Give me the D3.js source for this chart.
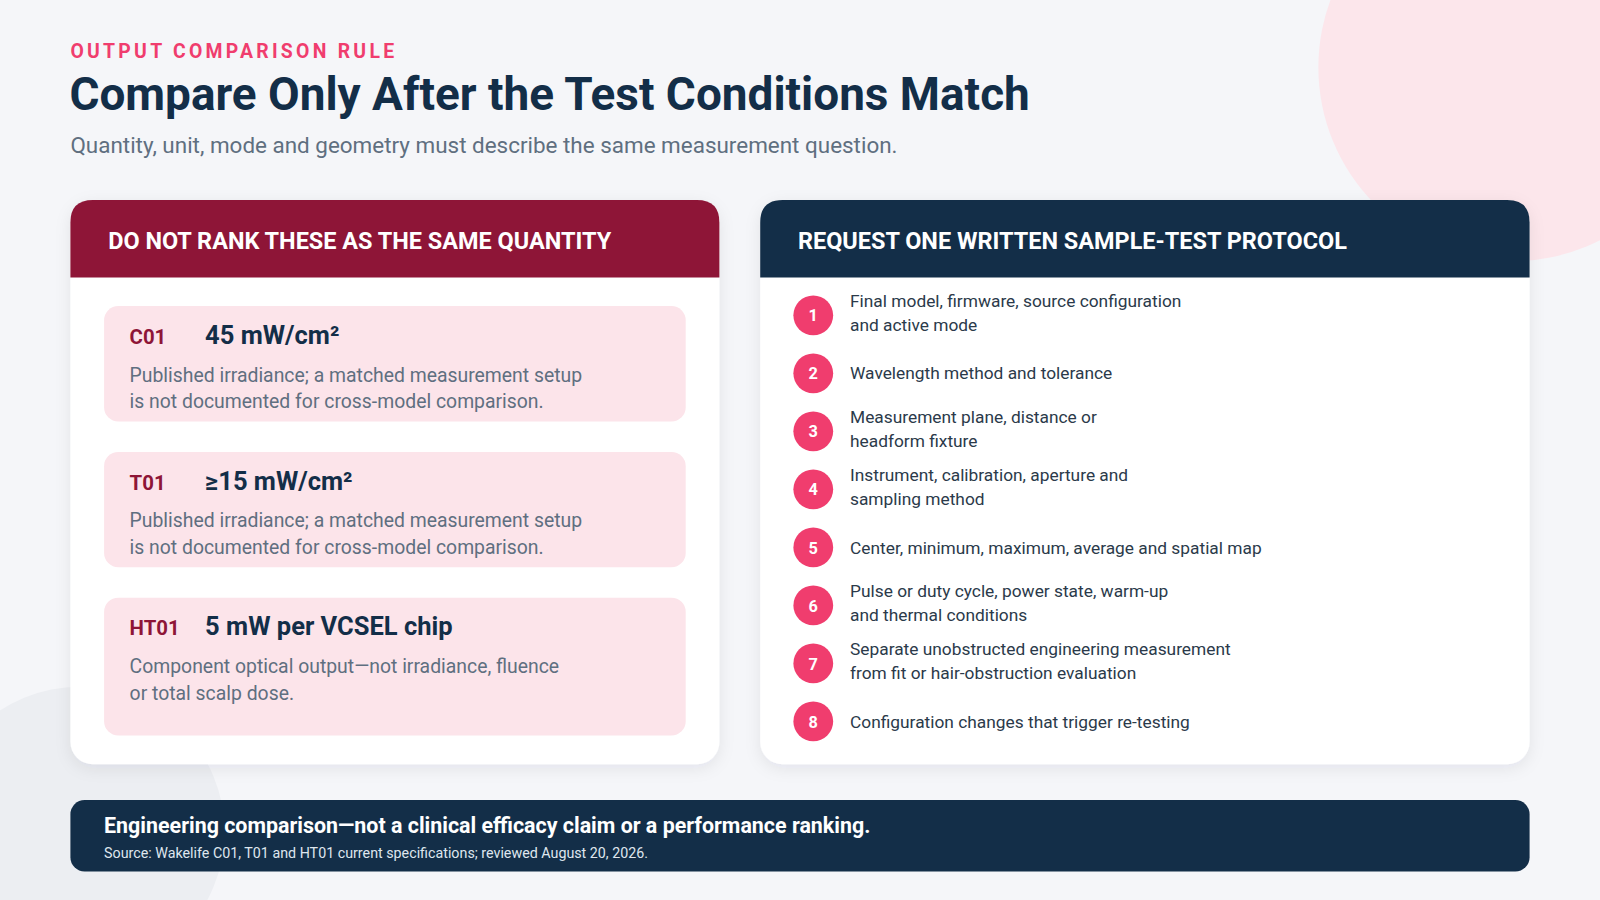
<!DOCTYPE html>
<html><head><meta charset="utf-8">
<script src="https://cdn.jsdelivr.net/npm/d3@7"></script>
<style>
body{margin:0;background:#f5f6f9;font-family:Roboto,"Liberation Sans",sans-serif}
</style></head>
<body><svg id="chart" width="1600" height="900" viewBox="0 0 1568 882"></svg>
<script>
// content
const kicker = "OUTPUT COMPARISON RULE";
const title = "Compare Only After the Test Conditions Match";
const subtitle = "Quantity, unit, mode and geometry must describe the same measurement question.";
const leftHeader = "DO NOT RANK THESE AS THE SAME QUANTITY";
const rightHeader = "REQUEST ONE WRITTEN SAMPLE-TEST PROTOCOL";
const codes = ["C01", "T01", "HT01"];
const values = ["45 mW/cm²", "≥15 mW/cm²", "5 mW per VCSEL chip"];
const notes = [
  ["Published irradiance; a matched measurement setup", "is not documented for cross-model comparison."],
  ["Published irradiance; a matched measurement setup", "is not documented for cross-model comparison."],
  ["Component optical output—not irradiance, fluence", "or total scalp dose."]
];
const steps = [
  ["Final model, firmware, source configuration", "and active mode"],
  ["Wavelength method and tolerance"],
  ["Measurement plane, distance or", "headform fixture"],
  ["Instrument, calibration, aperture and", "sampling method"],
  ["Center, minimum, maximum, average and spatial map"],
  ["Pulse or duty cycle, power state, warm-up", "and thermal conditions"],
  ["Separate unobstructed engineering measurement", "from fit or hair-obstruction evaluation"],
  ["Configuration changes that trigger re-testing"]
];
const footerMain = "Engineering comparison—not a clinical efficacy claim or a performance ranking.";
const footerSource = "Source: Wakelife C01, T01 and HT01 current specifications; reviewed August 20, 2026.";

const navy = "#132e48", wine = "#8e1537", pink = "#f03d6e", grey = "#5f6f80";
const svg = d3.select("#chart");

const defs = svg.append("defs");
const f = defs.append("filter").attr("id", "sh").attr("x", "-10%").attr("y", "-10%").attr("width", "120%").attr("height", "130%");
f.append("feDropShadow").attr("dx", 0).attr("dy", 4).attr("stdDeviation", 8).attr("flood-color", "#1b2a3a").attr("flood-opacity", 0.08);

svg.append("rect").attr("width", 1568).attr("height", 882).attr("fill", "#f5f6f9");
svg.append("circle").attr("cx", 1482).attr("cy", 66).attr("r", 190).attr("fill", "#fce6eb");
svg.append("circle").attr("cx", 78).attr("cy", 815).attr("r", 142).attr("fill", "#eceef2");

svg.append("text").attr("x", 69).attr("y", 57).text(kicker)
  .attr("fill", pink).attr("font-size", 19).attr("font-weight", 700).attr("letter-spacing", 3.2);
svg.append("text").attr("x", 68).attr("y", 108).text(title)
  .attr("fill", navy).attr("font-size", 45).attr("font-weight", 700);
svg.append("text").attr("x", 69).attr("y", 150).text(subtitle)
  .attr("fill", grey).attr("font-size", 22);

function card(x, w, head, color) {
  const g = svg.append("g");
  g.append("rect").attr("x", x).attr("y", 196).attr("width", w).attr("height", 553).attr("rx", 22)
    .attr("fill", "#fff").attr("filter", "url(#sh)");
  g.append("path").attr("fill", color)
    .attr("d", `M${x},272 V${196 + 22} Q${x},196 ${x + 22},196 H${x + w - 22} Q${x + w},196 ${x + w},218 V272 Z`);
  g.append("text").attr("x", x + 37).attr("y", 244).text(head)
    .attr("fill", "#fff").attr("font-size", 23).attr("font-weight", 700);
}
card(69, 636, leftHeader, wine);
card(745, 754, rightHeader, navy);

// left boxes
const boxY = d3.scaleBand().domain(codes).range([300, 705]).paddingInner(0.165);
const box = svg.selectAll("g.box").data(codes).join("g").attr("class", "box")
  .attr("transform", d => `translate(102,${boxY(d)})`);
box.append("rect").attr("width", 570).attr("height", (d, i) => i === 2 ? 135 : 113).attr("rx", 14).attr("fill", "#fce4ea");
box.append("text").attr("x", 25).attr("y", 37).text(d => d)
  .attr("fill", wine).attr("font-size", 20).attr("font-weight", 700);
box.append("text").attr("x", 99).attr("y", 37).text((d, i) => values[i])
  .attr("fill", navy).attr("font-size", 25).attr("font-weight", 700);
box.each(function(d, i) {
  d3.select(this).selectAll("text.n").data(notes[i]).join("text").attr("class", "n")
    .attr("x", 25).attr("y", (t, j) => 74 + j * 26).text(t => t)
    .attr("fill", grey).attr("font-size", 19);
});

// right steps
const stepY = d3.scalePoint().domain(d3.range(steps.length)).range([309, 707]);
const st = svg.selectAll("g.step").data(steps).join("g").attr("class", "step")
  .attr("transform", (d, i) => `translate(797,${stepY(i)})`);
st.append("circle").attr("r", 19.5).attr("fill", pink);
st.append("text").attr("y", 6).attr("text-anchor", "middle").text((d, i) => i + 1)
  .attr("fill", "#fff").attr("font-size", 16).attr("font-weight", 700);
st.each(function(d) {
  d3.select(this).selectAll("text.l").data(d).join("text").attr("class", "l")
    .attr("x", 36).attr("y", (t, j) => d.length === 1 ? 6 : -8 + j * 23).text(t => t)
    .attr("fill", "#2b3a4a").attr("font-size", 17);
});

// footer
svg.append("rect").attr("x", 69).attr("y", 784).attr("width", 1430).attr("height", 70).attr("rx", 14).attr("fill", navy);
svg.append("text").attr("x", 102).attr("y", 816).text(footerMain)
  .attr("fill", "#fff").attr("font-size", 21).attr("font-weight", 700);
svg.append("text").attr("x", 102).attr("y", 841).text(footerSource)
  .attr("fill", "#dfe6ee").attr("font-size", 14);
</script></body></html>
